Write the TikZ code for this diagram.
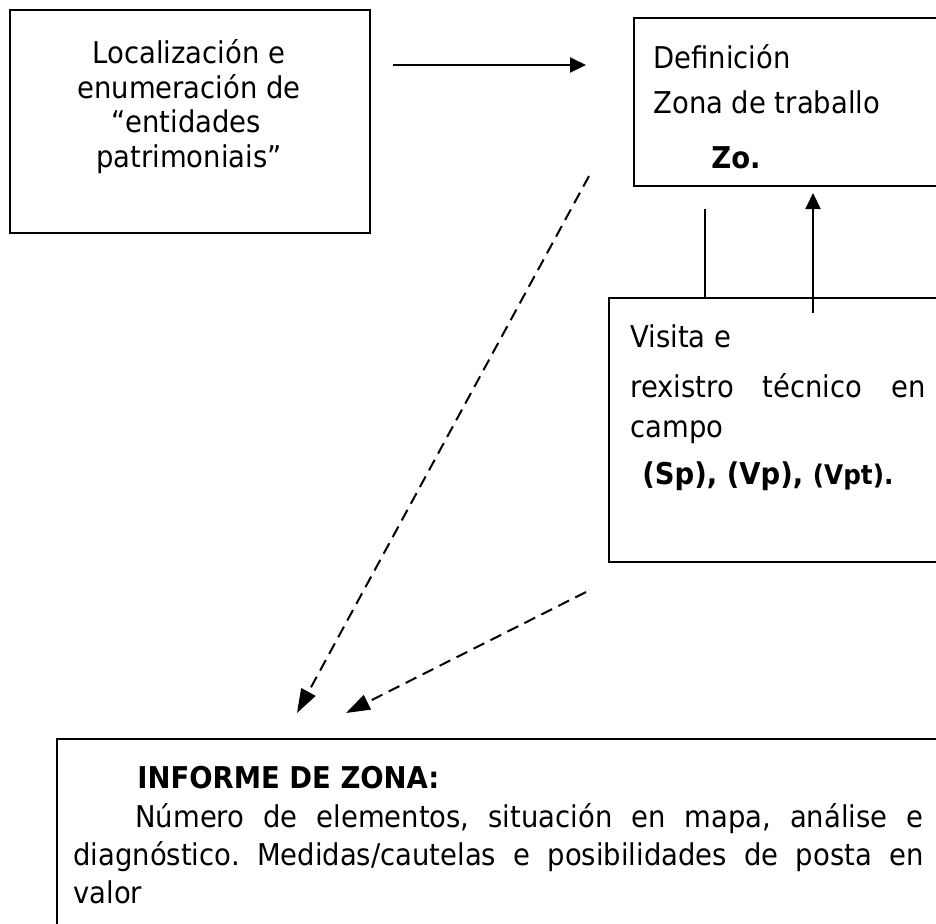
\documentclass[tikz,border=0pt]{standalone}
\usepackage{fontspec}
\setmainfont{DejaVu Sans}[FakeStretch=0.915]
\usetikzlibrary{arrows.meta}
\frenchspacing

\tikzset{
  box/.style={draw, line width=1pt, anchor=north west, inner sep=0pt},
  txt/.style={anchor=base west, inner sep=0pt, font=\fontsize{15}{18}\selectfont},
  arr/.style={line width=1pt, -{Triangle[length=8pt,width=7.5pt]}},
  dasharr/.style={line width=1pt, dash pattern=on 6pt off 3.5pt, -{Triangle[length=12pt,width=8pt]}},
}

\begin{document}
\begin{tikzpicture}[x=0.5pt, y=-0.5pt]
    \useasboundingbox (0,0) rectangle (936,923);
    \clip (0,0) rectangle (936,923);
    \node[box, minimum width=180pt, minimum height=111.5pt] (loc) at (9,9) {};
    \node[box, minimum width=163.5pt, minimum height=84pt] (def) at (633,17) {};
    \node[box, minimum width=176pt, minimum height=132pt] (visita) at (608,297) {};
    \node[box, minimum width=452pt, minimum height=111pt] (informe) at (56,738) {};

    \node[txt, anchor=base] (loc1) at (189,63) {Localización e};
    \node[txt, anchor=base] (loc2) at (189,98) {enumeración de};
    \node[txt, anchor=base] (loc3) at (186,132) {“entidades};
    \node[txt, anchor=base] (loc4) at (189,167) {patrimoniais”};

    \node[txt] (def1) at (653,68) {Definición};
    \node[txt] (def2) at (653,113) {Zona de traballo};
    \node[txt, font=\fontsize{15}{18}\selectfont\bfseries] (def3) at (711,168) {Zo.};

    \node[txt] (vis1) at (630,347) {Visita e};
    \node[txt] (vis2) at (630,397) {\makebox[147.5pt][s]{rexistro técnico en}};
    \node[txt] (vis3) at (630,437) {campo};
    \node[txt, font=\fontsize{15}{18}\selectfont\bfseries] (vis4) at (642,484) {(Sp), (Vp), {\fontsize{13.5}{16}\selectfont(Vpt).}};

    \node[txt, font=\fontsize{15}{18}\selectfont\bfseries] (inf1) at (137,788) {INFORME DE ZONA:};
    \node[txt] (inf2) at (135,827) {\makebox[394pt][s]{Número de elementos, situación en mapa, análise e}};
    \node[txt] (inf3) at (73,865) {\makebox[425pt][s]{diagnóstico. Medidas/cautelas e posibilidades de posta en}};
    \node[txt] (inf4) at (73,903) {valor};

    \coordinate (h1) at (393,65);
    \coordinate (h2) at (586,65);
    \draw[arr] (h1) -- (h2);
    \coordinate (v1) at (705,209);
    \draw[line width=1pt] (visita.north -| v1) -- (v1);
    \coordinate (u1) at (813,313);
    \coordinate (u2) at (813,193);
    \draw[arr] (u1) -- (u2);
    \coordinate (d1) at (589,176);
    \coordinate (d2) at (297,713);
    \draw[dasharr] (d1) -- (d2);
    \coordinate (e1) at (586,592);
    \coordinate (e2) at (346,713);
    \draw[dasharr] (e1) -- (e2);
\end{tikzpicture}
\end{document}
